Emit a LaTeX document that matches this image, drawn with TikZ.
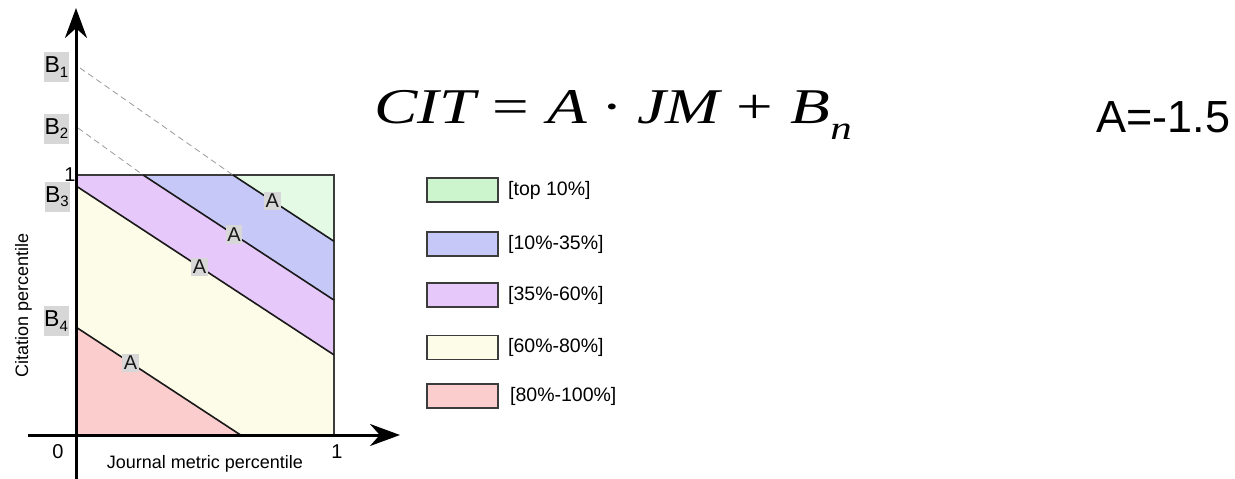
\documentclass[tikz,border=0pt]{standalone}
\usepackage{fontspec}
\setmainfont{Liberation Sans}
\newfontfamily\eqfont{Liberation Serif}
\usetikzlibrary{arrows.meta}
\definecolor{cgreen}{RGB}{228,250,228}
\definecolor{cgreenL}{RGB}{205,245,205}
\definecolor{cblue}{RGB}{198,200,248}
\definecolor{cpurple}{RGB}{230,200,250}
\definecolor{cyellow}{RGB}{252,252,232}
\definecolor{cred}{RGB}{252,205,205}
\definecolor{labgray}{RGB}{215,215,215}
\definecolor{edgegray}{RGB}{60,60,60}
\tikzset{
  axisline/.style={line width=3pt, -{Stealth[length=30pt,width=22pt]}},
  bandline/.style={line width=1.6pt, black!90},
  dashline/.style={line width=0.8pt, gray!80, dashed, dash pattern=on 6pt off 4pt},
  alab/.style={fill=labgray, inner sep=1.5pt, font=\fontsize{20}{20}\selectfont, text height=14.5pt, text depth=1pt},
  blab/.style={fill=labgray, inner sep=0pt, minimum width=25pt, minimum height=30pt, font=\fontsize{23}{23}\selectfont},
  lgbox/.style={draw=edgegray, line width=1.2pt, minimum width=71pt, minimum height=24pt},
  lgtext/.style={anchor=west, inner sep=0pt, font=\fontsize{19.5}{19.5}\selectfont},
  axtext/.style={inner sep=0pt, font=\fontsize{18}{18}\selectfont},
  numtext/.style={inner sep=0pt, font=\fontsize{20}{20}\selectfont}
}
\newcommand{\subb}[1]{\raisebox{-0.35ex}{\fontsize{15}{15}\selectfont #1}}
\begin{document}
\begin{tikzpicture}[x=1pt,y=-1pt]
\useasboundingbox (0,0) rectangle (1235,479);
% key points
\coordinate (SW) at (76,435);
\coordinate (NW) at (76,175);
\coordinate (NE) at (334,175);
\coordinate (SE) at (334,435);
\coordinate (p1) at (232.9,175);
\coordinate (q1) at (334,241.3);
\coordinate (p2) at (143.1,175);
\coordinate (q2) at (334,300.1);
\coordinate (p3) at (76,185.9);
\coordinate (q3) at (334,354.9);
\coordinate (p4) at (76,327.1);
\coordinate (q4) at (240.6,435);
% regions
\fill[cgreen] (p1) -- (NE) -- (q1) -- cycle;
\fill[cblue] (p2) -- (p1) -- (q1) -- (q2) -- cycle;
\fill[cpurple] (NW) -- (p2) -- (q2) -- (q3) -- (p3) -- cycle;
\fill[cyellow] (p3) -- (q3) -- (SE) -- (q4) -- (p4) -- cycle;
\fill[cred] (p4) -- (q4) -- (SW) -- cycle;
\draw[edgegray, line width=1.5pt] (NW) -- (NE) -- (SE);
% dashed extensions
\coordinate (d1) at (80,68);
\coordinate (d2) at (78,128);
\draw[dashline] (d1) -- (p1);
\draw[dashline] (d2) -- (p2);
% band lines
\draw[bandline] (p1) -- node[alab, pos=0.39] (a1) {A} (q1);
\draw[bandline] (p2) -- node[alab, pos=0.476] (a2) {A} (q2);
\draw[bandline] (p3) -- node[alab, pos=0.479] (a3) {A} (q3);
\draw[bandline] (p4) -- node[alab, pos=0.331] (a4) {A} (q4);
% axes
\coordinate (xs) at (28,435);
\coordinate (xe) at (400,435);
\coordinate (ys) at (76,479);
\coordinate (ye) at (76,8);
\draw[axisline] (xs) -- (xe);
\draw[axisline] (ys) -- (ye);
% axis texts
\node[numtext] (one) at (70,175) {1};
\node[numtext] (zero) at (58,452) {0};
\node[numtext] (onex) at (337,452) {1};
\node[axtext, anchor=base] (xlab) at (205,468) {Journal metric percentile};
\node[axtext, anchor=base, rotate=90] (ylab) at (28,305.5) {Citation percentile};
% B labels
\node[blab] (b1) at (56.5,67) {B\subb{1}};
\node[blab] (b2) at (56.5,128.5) {B\subb{2}};
\node[blab] (b3) at (57,197) {B\subb{3}};
\node[blab] (b4) at (56,321) {B\subb{4}};
% equation
\node[anchor=base west, inner sep=0pt, xscale=1.3, font=\eqfont\fontsize{50}{50}\selectfont] (eq) at (374,123)
  {\itshape CIT\hspace{0.27em}\upshape=\hspace{0.27em}\itshape A\hspace{0.22em}\upshape·\hspace{0.22em}\itshape JM\hspace{0.25em}\upshape+\hspace{0.27em}\itshape B\raisebox{-0.32em}{\fontsize{33}{33}\selectfont n}};
\node[anchor=base west, inner sep=0pt, font=\fontsize{45}{45}\selectfont] (aval) at (1096,132) {A=-1.5};
% legend
\node[lgbox, fill=cgreenL] (l1) at (462.5,190) {};
\node[lgbox, fill=cblue] (l2) at (462.5,244) {};
\node[lgbox, fill=cpurple] (l3) at (462.5,295) {};
\node[lgbox, fill=cyellow] (l4) at (462.5,347.5) {};
\node[lgbox, fill=cred] (l5) at (462.5,396) {};
\node[lgtext] (t1) at (508,190) {[top 10\%]};
\node[lgtext] (t2) at (508,244) {[10\%-35\%]};
\node[lgtext] (t3) at (508,295) {[35\%-60\%]};
\node[lgtext] (t4) at (508,347.5) {[60\%-80\%]};
\node[lgtext] (t5) at (510,396) {[80\%-100\%]};
\end{tikzpicture}
\end{document}
